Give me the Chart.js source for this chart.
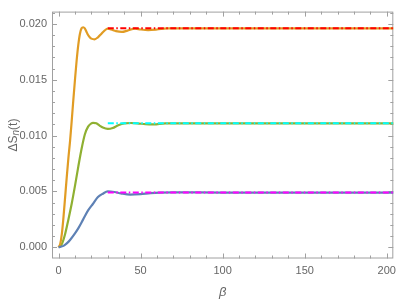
<!DOCTYPE html>
<html>
<head>
<meta charset="utf-8">
<script src="https://cdn.jsdelivr.net/npm/chart.js@4"></script>
<style>
  html, body { margin: 0; padding: 0; background: #fff; }
  canvas { display: block; }
</style>
</head>
<body>
<canvas id="chart" width="402" height="305"></canvas>
<script>
// beta values and curve readings
const betaOrange = [0, 1, 2, 3, 4, 5, 6, 7, 8, 9, 10, 11, 12, 13, 14, 15, 16, 17, 18, 19, 20, 22, 24, 26, 28, 30, 32, 35, 38.7, 42, 46.6, 50, 54.6, 60, 66, 80, 100, 150, 205];
const orangeVals = [0, 0.0003, 0.0012, 0.0027, 0.0045, 0.0063, 0.0080, 0.0095, 0.0113, 0.0132, 0.0150, 0.0167, 0.0181, 0.0191, 0.0196, 0.0197, 0.0196, 0.0193, 0.0190, 0.0188, 0.01868, 0.01862, 0.0188, 0.0191, 0.0194, 0.01957, 0.0195, 0.01935, 0.01928, 0.0194, 0.01957, 0.0195, 0.01945, 0.0195, 0.0196, 0.0196, 0.0196, 0.0196, 0.0196];

const betaGreen = [0, 2, 4, 6, 8, 10, 12, 14, 16, 18, 20, 21, 23, 25, 27, 30, 33, 36, 40, 44, 48, 53, 58, 65, 80, 100, 150, 205];
const greenVals = [0, 0.0003, 0.0012, 0.0025, 0.0039, 0.0055, 0.0072, 0.0088, 0.0101, 0.0108, 0.0111, 0.01114, 0.0111, 0.0109, 0.01072, 0.0106, 0.01068, 0.0109, 0.0111, 0.01113, 0.0111, 0.01102, 0.0110, 0.0111, 0.0111, 0.0111, 0.0111, 0.0111];

const betaBlue = [0, 3, 5, 7, 10, 12, 15, 18, 21, 24, 27, 30, 34, 38, 43.7, 50, 56, 62, 70, 100, 150, 205];
const blueVals = [0, 0.00013, 0.00035, 0.00066, 0.00125, 0.0017, 0.0025, 0.0033, 0.0039, 0.0045, 0.0048, 0.005, 0.00495, 0.00483, 0.00472, 0.00476, 0.00485, 0.0049, 0.00492, 0.0049, 0.0049, 0.0049];

// asymptote levels (dash-dot lines)
const levelStart = 30;
const levelEnd = 205;
const redLevel = 0.0196;
const cyanLevel = 0.0111;
const magentaLevel = 0.0049;

// ticks
const xTicks = [0, 50, 100, 150, 200];
const yTicks = [0, 0.005, 0.010, 0.015, 0.020];
const xMinorStep = 10;
const yMinorStep = 0.001;

const toPts = (xs, ys) => xs.map((x, i) => ({ x: x, y: ys[i] }));
const levelPts = v => [{ x: levelStart, y: v }, { x: levelEnd, y: v }];

const labelColor = '#666';
const frameColor = '#a0a0a0';
const fam = '"Liberation Sans", Arial, sans-serif';
const tickFont = { family: fam, size: 11 };

const framePlugin = {
  id: 'frame',
  beforeDatasetsDraw(chart) {
    const { ctx, chartArea: a, scales } = chart;
    const xs = scales.x, ys = scales.y;
    ctx.save();
    ctx.strokeStyle = frameColor;
    ctx.lineWidth = 1;
    ctx.strokeRect(a.left + 0.5, a.top + 0.5, a.right - a.left - 1, a.bottom - a.top - 1);
    ctx.beginPath();
    for (let v = 0; v <= 204; v += xMinorStep) {
      const len = xTicks.includes(v) ? 5 : 3;
      const px = Math.round(xs.getPixelForValue(v)) + 0.5;
      ctx.moveTo(px, a.bottom); ctx.lineTo(px, a.bottom - len);
      ctx.moveTo(px, a.top); ctx.lineTo(px, a.top + len);
    }
    for (let i = 0; i <= 21; i++) {
      const v = i * yMinorStep;
      const len = i % 5 === 0 ? 5 : 3;
      const py = Math.round(ys.getPixelForValue(v)) + 0.5;
      ctx.moveTo(a.left, py); ctx.lineTo(a.left + len, py);
      ctx.moveTo(a.right, py); ctx.lineTo(a.right - len, py);
    }
    ctx.stroke();
    ctx.restore();
  },
  afterDraw(chart) {
    const { ctx, chartArea: a } = chart;
    ctx.save();
    ctx.fillStyle = labelColor;
    // y title
    ctx.translate(13, (a.top + a.bottom) / 2);
    ctx.rotate(-Math.PI / 2);
    ctx.textBaseline = 'alphabetic';
    const parts = [
      ['ΔS', '12px ' + fam, 4],
      ['n', 'italic 10px ' + fam, 6],
      ['(t)', '12px ' + fam, 4]
    ];
    let w = 0;
    parts.forEach(p => { ctx.font = p[1]; w += ctx.measureText(p[0]).width; });
    let x = -w / 2;
    parts.forEach(p => {
      ctx.font = p[1];
      ctx.fillText(p[0], x, p[2]);
      x += ctx.measureText(p[0]).width;
    });
    ctx.restore();
    // x title
    ctx.save();
    ctx.fillStyle = labelColor;
    ctx.font = 'italic 13px ' + fam;
    ctx.textAlign = 'center';
    ctx.textBaseline = 'middle';
    ctx.fillText('β', (a.left + a.right) / 2, 292);
    ctx.restore();
  }
};

const lineDs = (data, color) => ({
  data: data,
  borderColor: color,
  borderWidth: 2.2,
  pointRadius: 0,
  fill: false,
  order: 2,
  cubicInterpolationMode: 'monotone'
});
const levelDs = (v, color) => ({
  data: levelPts(v),
  borderColor: color,
  borderWidth: 2,
  borderDash: [6, 2.5, 1.5, 2.5],
  pointRadius: 0,
  fill: false,
  order: 1
});

new Chart(document.getElementById('chart'), {
  type: 'line',
  data: {
    datasets: [
      lineDs(toPts(betaBlue, blueVals), '#5E81B5'),
      lineDs(toPts(betaOrange, orangeVals), '#E19C24'),
      lineDs(toPts(betaGreen, greenVals), '#8FB032'),
      levelDs(redLevel, '#ff0000'),
      levelDs(cyanLevel, '#00ffff'),
      levelDs(magentaLevel, '#ff00ff')
    ]
  },
  options: {
    responsive: false,
    animation: false,
    layout: { padding: { top: 0, right: 4, left: 0, bottom: 0 } },
    plugins: { legend: { display: false }, tooltip: { enabled: false } },
    scales: {
      x: {
        type: 'linear',
        min: -4,
        max: 204,
        afterBuildTicks: s => { s.ticks = xTicks.map(v => ({ value: v })); },
        afterFit: s => { s.height = 46.5; },
        grid: { display: false, drawTicks: false },
        border: { display: false },
        ticks: { color: labelColor, font: tickFont, padding: 6, maxRotation: 0 }
      },
      y: {
        type: 'linear',
        min: -0.001,
        max: 0.0211,
        afterBuildTicks: s => { s.ticks = yTicks.map(v => ({ value: v })); },
        afterFit: s => { s.width = 52; },
        grid: { display: false, drawTicks: false },
        border: { display: false },
        ticks: { color: labelColor, font: tickFont, padding: 5, callback: v => v.toFixed(3) }
      }
    }
  },
  plugins: [framePlugin]
});
</script>
</body>
</html>
